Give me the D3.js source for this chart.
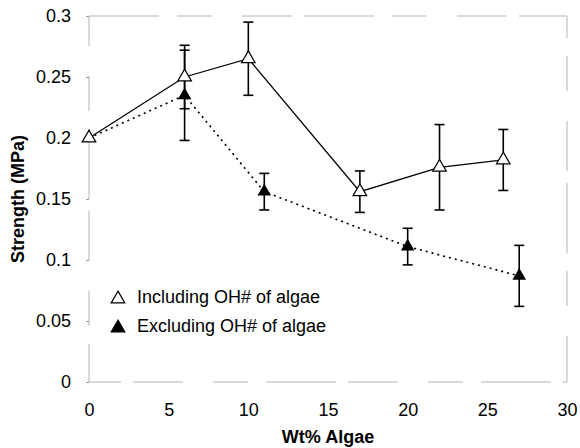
<!DOCTYPE html>
<html lang="en">
<head>
<meta charset="UTF-8">
<title>Strength vs Wt% Algae</title>
<script src="https://d3js.org/d3.v7.min.js"></script>
<style>
  body { margin: 0; background: #fff; }
  svg text { font-family: "Liberation Sans", Arial, sans-serif; fill: #000; }
</style>
</head>
<body>
<div id="chart"></div>
<script>
// data
const incX = [0, 6, 10, 17, 22, 26];
const incY = [0.2, 0.25, 0.265, 0.156, 0.176, 0.182];
const incErr = [0, 0.026, 0.03, 0.017, 0.035, 0.025];

const excX = [0, 6, 11, 20, 27];
const excY = [0.2, 0.235, 0.156, 0.111, 0.087];
const excErr = [0, 0.037, 0.015, 0.015, 0.025];

const xTicks = [0, 5, 10, 15, 20, 25, 30];
const yTicks = [0, 0.05, 0.1, 0.15, 0.2, 0.25, 0.3];
const legendLabels = ["Including OH# of algae", "Excluding OH# of algae"];

const width = 580, height = 448;
const margin = { top: 16, right: 13, bottom: 66, left: 89 };

const x = d3.scaleLinear().domain([0, 30]).range([margin.left, width - margin.right]);
const y = d3.scaleLinear().domain([0, 0.3]).range([height - margin.bottom, margin.top]);

const svg = d3.select("#chart").append("svg")
    .attr("width", width)
    .attr("height", height);

// faint scanned-looking frame
svg.append("rect")
    .attr("x", x(0)).attr("y", y(0.3))
    .attr("width", x(30) - x(0)).attr("height", y(0) - y(0.3))
    .attr("fill", "none")
    .attr("stroke", "#b5b5b5")
    .attr("stroke-width", 1)
    .attr("stroke-dasharray", "70,18,35,30,50,12");

// axes
const xAxis = svg.append("g")
    .attr("transform", `translate(0,${y(0)})`)
    .call(d3.axisBottom(x).tickValues(xTicks).tickSize(0).tickPadding(21).tickFormat(d3.format("d")));
const yAxis = svg.append("g")
    .attr("transform", `translate(${x(0)},0)`)
    .call(d3.axisLeft(y).tickValues(yTicks).tickSize(3).tickPadding(15).tickFormat(d => d === 0 ? "0" : String(+d.toFixed(2))));

[xAxis, yAxis].forEach(g => {
    g.select(".domain").remove();
    g.selectAll("line").attr("stroke", "#999");
    g.selectAll("text").attr("font-size", 18).attr("font-family", "Liberation Sans, Arial, sans-serif");
});

// axis titles
svg.append("text")
    .attr("x", (x(0) + x(30)) / 2)
    .attr("y", 443)
    .attr("text-anchor", "middle")
    .attr("font-size", 18)
    .attr("font-weight", "bold")
    .text("Wt% Algae");

svg.append("text")
    .attr("transform", `translate(24,${(y(0) + y(0.3)) / 2}) rotate(-90)`)
    .attr("text-anchor", "middle")
    .attr("font-size", 18)
    .attr("font-weight", "bold")
    .text("Strength (MPa)");

const incData = incX.map((d, i) => ({ x: d, y: incY[i], e: incErr[i] }));
const excData = excX.map((d, i) => ({ x: d, y: excY[i], e: excErr[i] }));

const line = d3.line().x(d => x(d.x)).y(d => y(d.y));

svg.append("path")
    .datum(excData)
    .attr("d", line)
    .attr("fill", "none")
    .attr("stroke", "#000")
    .attr("stroke-width", 1.6)
    .attr("stroke-dasharray", "2,4");

svg.append("path")
    .datum(incData)
    .attr("d", line)
    .attr("fill", "none")
    .attr("stroke", "#000")
    .attr("stroke-width", 1.3);

function errorBars(data) {
    const g = svg.append("g").attr("stroke", "#000").attr("stroke-width", 1.6);
    data.filter(d => d.e > 0).forEach(d => {
        const cx = x(d.x), y1 = y(d.y + d.e), y2 = y(d.y - d.e);
        g.append("line").attr("x1", cx).attr("x2", cx).attr("y1", y1).attr("y2", y2);
        g.append("line").attr("x1", cx - 5).attr("x2", cx + 5).attr("y1", y1).attr("y2", y1);
        g.append("line").attr("x1", cx - 5).attr("x2", cx + 5).attr("y1", y2).attr("y2", y2);
    });
}
errorBars(excData);
errorBars(incData);

const tri = d3.symbol().type(d3.symbolTriangle).size(80);

svg.append("g").selectAll("path")
    .data(excData)
    .join("path")
    .attr("transform", d => `translate(${x(d.x)},${y(d.y)})`)
    .attr("d", tri)
    .attr("fill", "#000");

svg.append("g").selectAll("path")
    .data(incData)
    .join("path")
    .attr("transform", d => `translate(${x(d.x)},${y(d.y)})`)
    .attr("d", tri)
    .attr("fill", "#fff")
    .attr("stroke", "#000")
    .attr("stroke-width", 1.2);

// legend
const legend = svg.append("g").attr("transform", "translate(118,297)");
legendLabels.forEach((label, i) => {
    const row = legend.append("g").attr("transform", `translate(0,${i * 29})`);
    row.append("path")
        .attr("d", tri)
        .attr("transform", "translate(0,2)")
        .attr("fill", i === 0 ? "#fff" : "#000")
        .attr("stroke", "#000")
        .attr("stroke-width", 1.2);
    row.append("text")
        .attr("x", 19)
        .attr("y", 0)
        .attr("dy", "0.35em")
        .attr("font-size", 18)
        .text(label);
});
</script>
</body>
</html>
